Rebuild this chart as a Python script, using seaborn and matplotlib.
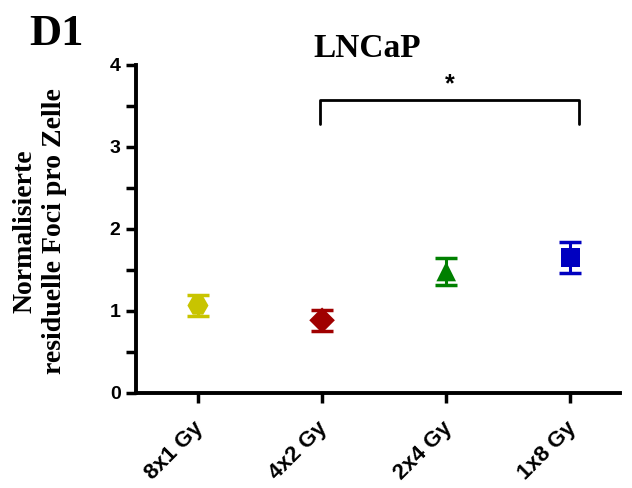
import matplotlib
matplotlib.use("Agg")
import matplotlib.pyplot as plt
from matplotlib.ticker import MultipleLocator
import matplotlib.transforms as mtransforms
import seaborn as sns
import pandas as pd
import numpy as np

categories = ["8x1 Gy", "4x2 Gy", "2x4 Gy", "1x8 Gy"]
means = [1.065, 0.885, 1.48, 1.655]
errors = [0.13, 0.13, 0.16, 0.19]
colors = ["#c8c400", "#a00000", "#008000", "#0000c0"]
markers = ["H", "D", "^", "s"]
yticks = [0, 1, 2, 3, 4]

sns.set_style("ticks")
plt.rcParams["text.color"] = "black"
plt.rcParams["axes.labelcolor"] = "black"
df = pd.DataFrame({"cat": categories, "mean": means, "err": errors})

fig = plt.figure(figsize=(6.32, 4.88), dpi=100)
ax = fig.add_axes([0.215, 0.195, 0.766, 0.672])

for i, (c, m, e, col, mk) in enumerate(zip(categories, means, errors, colors, markers)):
    ax.errorbar(i, m, yerr=e, fmt="none", ecolor=col, elinewidth=2.2, capsize=8, capthick=2.5, zorder=2)

sizes = {"H": 230, "D": 170, "^": 200, "s": 190}
sns.scatterplot(data=df, x="cat", y="mean", hue="cat", style="cat",
                palette=dict(zip(categories, colors)),
                markers=dict(zip(categories, markers)),
                s=200, legend=False, ax=ax, zorder=3, edgecolor="none")
coll = ax.collections[-1]
coll.set_sizes([sizes[mk] for mk in markers])

ax.set_xlim(-0.5, 3.4)
ax.set_ylim(0, 4)
ax.set_yticks(yticks)
ax.yaxis.set_minor_locator(MultipleLocator(0.5))
ax.set_xticks(range(len(categories)))
for sp in ["top", "right"]:
    ax.spines[sp].set_visible(False)
for sp in ["left", "bottom"]:
    ax.spines[sp].set_linewidth(2.8)
    ax.spines[sp].set_color("black")
ax.tick_params(axis="both", which="both", width=2.5, length=7, direction="out", colors="black")
ax.tick_params(axis="x", pad=12)
ax.tick_params(axis="y", pad=4)
ax.grid(False)

ax.set_xticklabels(categories, rotation=45, ha="right", rotation_mode="anchor",
                   fontfamily="Liberation Sans", fontweight="bold", fontsize=16, color="black")
offset = mtransforms.ScaledTranslation(-0.05, 0.02, fig.dpi_scale_trans)
for lab in ax.get_xticklabels():
    lab.set_transform(lab.get_transform() + offset)
ax.set_yticklabels([str(t) for t in yticks], fontfamily="Liberation Sans", fontweight="bold",
                   fontsize=14, color="black")
ax.set_xlabel("")
ax.set_ylabel("")
fig.text(40 / 632, 1 - 231 / 488, "Normalisierte\nresiduelle Foci pro Zelle",
         rotation=90, ha="center", va="center", multialignment="center",
         fontfamily="Liberation Serif", fontweight="bold", fontsize=20, color="black",
         linespacing=1.25)

# significance bracket
ax.plot([0.98, 0.98, 3.07, 3.07], [3.28, 3.57, 3.57, 3.28], color="black", lw=2, clip_on=False)
ax.text(2.025, 3.62, "*", ha="center", va="bottom", fontsize=18, fontweight="bold",
        fontfamily="Liberation Sans", color="black")

ax.text(0.477, 1.024, "LNCaP", transform=ax.transAxes, ha="center", va="baseline",
        fontfamily="Liberation Serif", fontweight="bold", fontsize=24, color="black")
fig.text(0.047, 1 - 45 / 488, "D1", fontfamily="Liberation Serif", fontweight="bold", fontsize=32,
         color="black", va="baseline")

fig.savefig("out.png", dpi=100)
